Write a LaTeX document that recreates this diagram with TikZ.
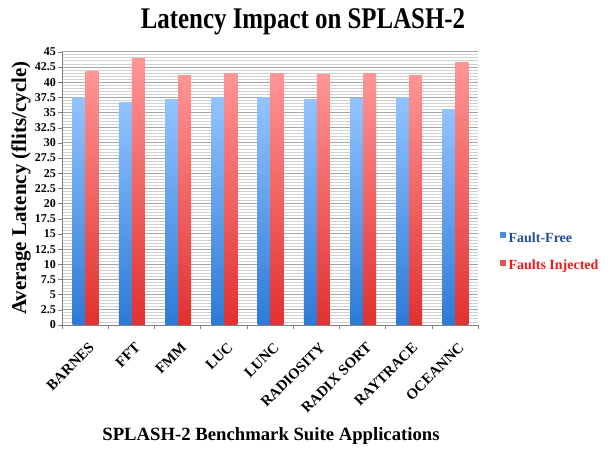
\documentclass[tikz,border=0pt]{standalone}
\usepackage{fontspec}
\setmainfont{Liberation Serif}
\usetikzlibrary{positioning}

\definecolor{barblue}{HTML}{2C7AD6}
\definecolor{barbluelt}{HTML}{93C3FF}
\definecolor{barred}{HTML}{E23030}
\definecolor{barredlt}{HTML}{FF9595}
\definecolor{keyblue}{HTML}{1F4F8F}
\definecolor{keyred}{HTML}{F01818}

\begin{document}
\begin{tikzpicture}[x=1pt,y=1pt,
  tick label/.style={font=\bfseries\fontsize{12}{12}\selectfont,anchor=east,inner sep=1pt},
  cat label/.style={font=\bfseries\fontsize{14.8}{14.8}\selectfont,anchor=north east,
  rotate=45,inner sep=1pt},
  key box/.style={minimum size=6.5pt,inner sep=0pt},
  key text/.style={font=\bfseries\fontsize{14}{14}\selectfont,inner sep=0pt}]

  \useasboundingbox (0,0) rectangle (615,449);

  % striped plot area, a darker rule every 2.5
  \foreach \k in {0,...,90}
    \draw[gray!35,line width=0.9pt] (62,124+\k*3.035) -- (478,124+\k*3.035);
  \foreach \k in {0,...,18}
    \draw[gray!70,line width=0.9pt] (62,124+\k*15.175) -- (478,124+\k*15.175);

  % bars: fault-free / faults injected
  \foreach \name/\free/\inj [count=\i from 0] in {BARNES/37.5/41.8, FFT/36.6/43.9,
      FMM/37.2/41.1, LUC/37.4/41.5, LUNC/37.4/41.5, RADIOSITY/37.2/41.2,
      RADIX SORT/37.3/41.5, RAYTRACE/37.5/41.1, OCEANNC/35.5/43.2} {
    \pgfmathsetmacro{\xl}{62+46.22*\i+10.7}
    \shade[top color=barbluelt,bottom color=barblue] (\xl,124) rectangle ++(13,\free*6.07);
    \shade[top color=barredlt,bottom color=barred] (\xl+13,124) rectangle ++(13,\inj*6.07);
    \node[cat label] (cat\i) at (62+46.22*\i+26,109) {\name};
  }

  % axes and ticks
  \draw[gray] (62,124) -- (62,397);
  \draw[gray] (62,124) -- (478,124);
  \foreach \v [count=\k from 0] in {0,2.5,5,7.5,10,12.5,15,17.5,20,22.5,25,27.5,
      30,32.5,35,37.5,40,42.5,45} {
    \draw[gray] (58,124+\v*6.07) -- (62,124+\v*6.07);
    \node[tick label] (yt\k) at (57,124+\v*6.07) {\v};
  }
  \foreach \i in {0,...,9}
    \draw[gray] (62+46.22*\i,124) -- ++(0,-4);

  \node[font=\bfseries\fontsize{30}{30}\selectfont,xscale=0.83] (title) at (303,427)
    {Latency Impact on SPLASH-2};
  \node[rotate=90,font=\bfseries\fontsize{21}{21}\selectfont] (ylab) at (21,261)
    {Average Latency (flits/cycle)};
  \node[font=\bfseries\fontsize{18.7}{18.7}\selectfont] (xlab) at (271,13)
    {SPLASH-2 Benchmark Suite Applications};

  % legend
  \node[key box,fill=barblue!85] (keyff) at (503,214) {};
  \node[key text,keyblue,anchor=west,right=2pt of keyff,yshift=-3pt] (txtff) {Fault-Free};
  \node[key box,fill=barred!85] (keyfi) at (503,186) {};
  \node[key text,keyred,anchor=west,right=2pt of keyfi,yshift=-3pt] (txtfi) {Faults Injected};

\end{tikzpicture}
\end{document}
